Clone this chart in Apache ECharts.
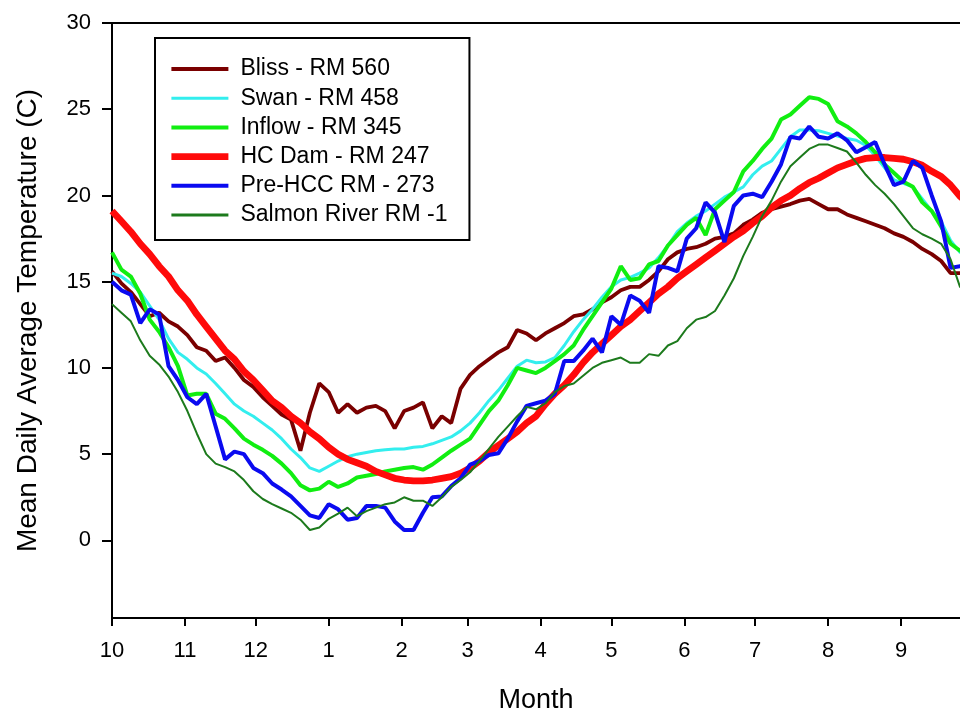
<!DOCTYPE html>
<html>
<head>
<meta charset="utf-8">
<script src="https://cdn.jsdelivr.net/npm/echarts@6/dist/echarts.min.js"></script>
<style>
  html, body { margin: 0; padding: 0; background: #ffffff; }
  #chart { width: 960px; height: 713px; }
</style>
</head>
<body>
<div id="chart"></div>
<script>
// Day of water year (0 = Oct 1), sampled every 4 days
const days = [
  0, 4, 8, 12, 16, 20, 24, 28, 32, 36,
  40, 44, 48, 52, 56, 60, 64, 68, 72, 76,
  80, 84, 88, 92, 96, 100, 104, 108, 112, 116,
  120, 124, 128, 132, 136, 140, 144, 148, 152, 156,
  160, 164, 168, 172, 176, 180, 184, 188, 192, 196,
  200, 204, 208, 212, 216, 220, 224, 228, 232, 236,
  240, 244, 248, 252, 256, 260, 264, 268, 272, 276,
  280, 284, 288, 292, 296, 300, 304, 308, 312, 316,
  320, 324, 328, 332, 336, 340, 344, 348, 352, 356,
  360, 364
];

// Month tick positions (day of water year) and labels
const monthStartDays = [0, 31, 61, 92, 123, 151, 182, 212, 243, 273, 304, 335];
const monthLabels = ['10', '11', '12', '1', '2', '3', '4', '5', '6', '7', '8', '9'];
const yTickValues = [0, 5, 10, 15, 20, 25, 30];

const seriesNames = ['Bliss - RM 560', 'Swan - RM 458', 'Inflow - RM 345', 'HC Dam - RM 247', 'Pre-HCC RM - 273', 'Salmon River RM -1'];

const bliss = [
  15.6, 14.9, 14.4, 13.7, 13.0, 13.2, 12.7, 12.4, 11.9, 11.2,
  11.0, 10.4, 10.6, 10.0, 9.3, 8.9, 8.3, 7.8, 7.3, 7.0,
  5.2, 7.4, 9.1, 8.6, 7.4, 7.9, 7.4, 7.7, 7.8, 7.5,
  6.5, 7.5, 7.7, 8.0, 6.5, 7.2, 6.8, 8.8, 9.6, 10.1,
  10.5, 10.9, 11.2, 12.2, 12.0, 11.6, 12.0, 12.3, 12.6, 13.0,
  13.1, 13.4, 13.8, 14.1, 14.5, 14.7, 14.7, 15.1, 15.6, 16.3,
  16.7, 16.9, 17.0, 17.2, 17.5, 17.6, 17.8, 18.3, 18.6, 19.0,
  19.2, 19.35, 19.5, 19.7, 19.8, 19.5, 19.2, 19.2, 18.9, 18.7,
  18.5, 18.3, 18.1, 17.8, 17.6, 17.3, 16.9, 16.6, 16.2, 15.5,
  15.5, 15.3
];

const swan = [
  15.5, 15.3, 14.9, 14.4, 13.6, 12.8, 11.7, 10.9, 10.5, 10.0,
  9.65, 9.1, 8.5, 7.9, 7.5, 7.2, 6.8, 6.4, 5.9, 5.3,
  4.8, 4.2, 4.0, 4.3, 4.6, 4.85, 5.0, 5.1, 5.2, 5.25,
  5.3, 5.3, 5.4, 5.45, 5.6, 5.8, 6.0, 6.35, 6.8, 7.4,
  8.1, 8.7, 9.4, 10.1, 10.45, 10.3, 10.35, 10.6, 11.3, 12.1,
  12.8, 13.4, 14.1, 14.7, 15.1, 15.25, 15.5, 15.8, 16.4, 17.1,
  17.9, 18.4, 18.8, 19.1, 19.5, 19.9, 20.2, 20.5, 21.2, 21.7,
  22.0, 22.7, 23.4, 23.8, 23.8, 23.75, 23.6, 23.45, 23.3, 23.2,
  22.9, 22.3, 21.6, 20.9, 20.7, 20.5, 19.8, 19.1, 18.5, 17.4,
  16.7, 16.5
];

const inflow = [
  16.7, 15.7, 15.3, 14.3, 12.8, 12.1, 11.2, 10.1, 8.4, 8.5,
  8.5, 7.35, 7.05, 6.5, 5.9, 5.55, 5.25, 4.9, 4.45, 3.9,
  3.2, 2.9, 3.0, 3.4, 3.1, 3.3, 3.65, 3.75, 3.85, 4.0,
  4.1, 4.2, 4.25, 4.1, 4.4, 4.8, 5.2, 5.55, 5.9, 6.7,
  7.5, 8.1, 9.0, 10.0, 9.85, 9.7, 10.0, 10.4, 10.8, 11.3,
  12.2, 13.0, 13.8, 14.6, 15.9, 15.1, 15.2, 16.0, 16.2, 17.1,
  17.7, 18.3, 18.7, 17.7, 19.2, 19.7, 20.2, 21.4, 22.0, 22.7,
  23.3, 24.4, 24.7, 25.2, 25.7, 25.6, 25.3, 24.3, 24.0, 23.6,
  23.1, 22.5, 21.8, 21.3, 20.8, 20.5, 19.6, 19.1, 18.2, 17.2,
  16.8, 16.6
];

const hcDam = [
  19.1, 18.5, 17.9, 17.2, 16.6, 15.9, 15.3, 14.5, 13.9, 13.1,
  12.4, 11.7, 11.0, 10.5, 9.8, 9.3, 8.7, 8.1, 7.7, 7.2,
  6.8, 6.3, 5.9, 5.4, 5.0, 4.7, 4.5, 4.3, 4.0, 3.8,
  3.6, 3.5, 3.45, 3.45, 3.5, 3.6, 3.7, 3.9, 4.2, 4.6,
  5.1, 5.5, 5.9, 6.3, 6.8, 7.2, 7.9, 8.5, 9.0, 9.6,
  10.3, 10.9, 11.4, 11.9, 12.4, 12.8, 13.3, 13.8, 14.3, 14.7,
  15.2, 15.6, 16.0, 16.4, 16.8, 17.2, 17.6, 17.95, 18.4, 18.8,
  19.3, 19.7, 20.0, 20.4, 20.75, 21.0, 21.3, 21.6, 21.8, 22.0,
  22.15, 22.2, 22.2, 22.15, 22.1, 21.95, 21.75, 21.4, 21.1, 20.6,
  19.95, 19.5
];

const preHcc = [
  15.0, 14.5, 14.25, 12.6, 13.4, 13.1, 10.1, 9.3, 8.3, 7.9,
  8.5, 6.6, 4.7, 5.15, 5.0, 4.2, 3.9, 3.3, 2.95, 2.55,
  2.0, 1.45, 1.3, 2.1, 1.8, 1.2, 1.3, 2.0, 2.0, 1.9,
  1.1, 0.6, 0.6, 1.6, 2.5, 2.55, 3.15, 3.6, 4.4, 4.6,
  4.95, 5.05, 5.9, 6.9, 7.8, 7.95, 8.1, 8.5, 10.4, 10.4,
  11.0, 11.7, 10.9, 13.0, 12.5, 14.2, 13.9, 13.2, 15.9, 15.8,
  15.6, 17.5, 18.1, 19.6, 19.0, 17.3, 19.4, 20.0, 20.1, 19.9,
  20.8, 21.8, 23.4, 23.3, 24.0, 23.4, 23.3, 23.6, 23.2, 22.5,
  22.8, 23.1, 21.8, 20.6, 20.8, 22.0, 21.6, 20.0, 18.5, 15.8,
  15.9, 15.9
];

const salmon = [
  13.7, 13.2, 12.7, 11.6, 10.7, 10.2, 9.5, 8.6, 7.5, 6.2,
  5.0, 4.45, 4.25, 4.0, 3.5, 2.85, 2.4, 2.1, 1.85, 1.6,
  1.2, 0.6, 0.75, 1.25, 1.55, 1.9, 1.4, 1.7, 1.9, 2.1,
  2.2, 2.5, 2.3, 2.3, 2.0, 2.5, 3.1, 3.5, 3.95, 4.6,
  5.3, 6.0, 6.6, 7.2, 7.74, 7.6, 7.95, 8.6, 8.95, 9.1,
  9.55, 10.0, 10.3, 10.45, 10.6, 10.3, 10.3, 10.8, 10.7, 11.3,
  11.55, 12.3, 12.8, 12.95, 13.3, 14.2, 15.2, 16.5, 17.6, 18.8,
  19.7, 20.8, 21.7, 22.2, 22.7, 22.95, 22.95, 22.75, 22.55, 21.9,
  21.2, 20.6, 20.1, 19.5, 18.8, 18.1, 17.75, 17.5, 17.2, 16.3,
  14.7, 14.2
];

const seriesValues = [bliss, swan, inflow, hcDam, preHcc, salmon];
const seriesColors = ['#7a0000', '#33eeee', '#11ee11', '#ff0a0a', '#0a0af0', '#1c7a1c'];
const seriesWidths = [3.8, 3, 4, 6.8, 4, 2];

const FONT = 'Liberation Sans, Arial, sans-serif';

const chart = echarts.init(document.getElementById('chart'), null, { renderer: 'canvas' });

const series = seriesNames.map((name, i) => ({
  name: name,
  type: 'line',
  symbol: 'none',
  smooth: false,
  data: days.map((d, j) => [d, seriesValues[i][j]]),
  lineStyle: { color: seriesColors[i], width: seriesWidths[i] },
  itemStyle: { color: seriesColors[i] },
  emphasis: { disabled: true },
  animation: false
}));

const option = {
  backgroundColor: '#ffffff',
  animation: false,
  grid: { left: 112, right: 0, top: 23, bottom: 95, containLabel: false, outerBoundsMode: 'none' },
  legend: {
    orient: 'vertical',
    left: 155,
    top: 38,
    backgroundColor: '#ffffff',
    borderColor: '#000000',
    borderWidth: 2,
    borderRadius: 0,
    padding: [19, 22, 13, 13],
    itemWidth: 57,
    itemHeight: 14,
    itemGap: 5.2,
    selectedMode: false,
    itemStyle: { opacity: 0 },
    textStyle: { fontFamily: FONT, fontSize: 23, color: '#000000', lineHeight: 24, padding: [0, 0, 0, 7] },
    data: seriesNames.map((name, i) => ({
      name: name,
      lineStyle: { color: seriesColors[i], width: Math.max(seriesWidths[i], 3) }
    }))
  },
  xAxis: [
    {
      type: 'value',
      min: 0,
      max: 360,
      position: 'bottom',
      axisLine: { show: true, onZero: false, lineStyle: { color: '#000000', width: 2 } },
      axisTick: { show: true, customValues: monthStartDays, length: 8, lineStyle: { color: '#000000', width: 2 } },
      axisLabel: {
        customValues: monthStartDays,
        formatter: function (v) {
          const k = monthStartDays.indexOf(Math.round(v));
          return k >= 0 ? monthLabels[k] : '';
        },
        margin: 22,
        fontSize: 22,
        fontFamily: FONT,
        color: '#000000'
      },
      splitLine: { show: false },
      name: 'Month',
      nameLocation: 'middle',
      nameGap: 69,
      nameTextStyle: { fontSize: 27, fontFamily: FONT, color: '#000000' }
    },
    {
      type: 'value',
      min: 0,
      max: 360,
      position: 'top',
      axisLine: { show: true, onZero: false, lineStyle: { color: '#000000', width: 2 } },
      axisTick: { show: false },
      axisLabel: { show: false },
      splitLine: { show: false }
    }
  ],
  yAxis: {
    type: 'value',
    min: -4.5,
    max: 30,
    axisLine: { show: true, onZero: false, lineStyle: { color: '#000000', width: 2 } },
    axisTick: { show: true, customValues: yTickValues, length: 10, lineStyle: { color: '#000000', width: 2 } },
    axisLabel: {
      customValues: yTickValues,
      margin: 21,
      fontSize: 22,
      fontFamily: FONT,
      color: '#000000'
    },
    splitLine: { show: false },
    name: 'Mean Daily Average Temperature (C)',
    nameLocation: 'middle',
    nameGap: 70,
    nameTextStyle: { fontSize: 28, fontFamily: FONT, color: '#000000' }
  },
  series: series
};

chart.setOption(option);
</script>
</body>
</html>
